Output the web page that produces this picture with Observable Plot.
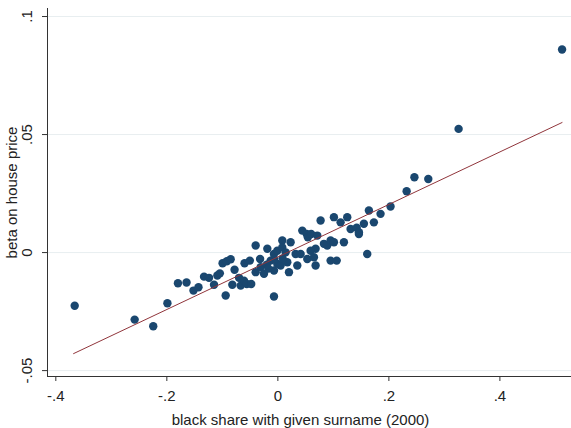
<!DOCTYPE html>
<html>
<head>
<meta charset="utf-8">
<script src="https://cdn.jsdelivr.net/npm/d3@7"></script>
<script src="https://cdn.jsdelivr.net/npm/@observablehq/plot@0.6"></script>
<style>
  html, body { margin: 0; padding: 0; background: #fff; }
  #chart { width: 571px; height: 428px; }
</style>
</head>
<body>
<div id="chart"></div>
<script>
// black share with given surname (2000)
const blackShare = [
  -0.366, -0.258, -0.2245, -0.199, -0.180, -0.1645, -0.152, -0.143, -0.133, -0.124,
  -0.115, -0.109, -0.1045, -0.0996, -0.092, -0.085, -0.078, -0.094, -0.082, -0.070,
  -0.067, -0.061, -0.056, -0.060, -0.0505, -0.040, -0.048, -0.040, -0.031, -0.032,
  -0.025, -0.019, -0.013, -0.007, -0.001, -0.007, -0.001, -0.007, 0.008, 0.008,
  0.023, 0.014, 0.005, -0.007, 0.017, 0.020, 0.035, 0.032, 0.041, 0.044,
  0.052, 0.054, 0.060, 0.077, 0.071, 0.068, 0.059, 0.053, 0.065, 0.068,
  0.083, 0.089, 0.095, 0.101, 0.113, 0.125, 0.101, 0.119, 0.095, 0.106,
  0.131, 0.142, 0.146, 0.155, 0.164, 0.173, 0.161, 0.185, 0.203, 0.232,
  0.246, 0.271, 0.3256, 0.512, 0.146, -0.020, 0.0085, -0.017
];
// beta on house price
const betaHousePrice = [
  -0.0225, -0.0284, -0.0312, -0.0215, -0.0130, -0.0127, -0.0161, -0.0147, -0.0102, -0.0107,
  -0.0136, -0.0097, -0.0088, -0.0045, -0.0037, -0.0028, -0.0073, -0.0182, -0.0136, -0.0107,
  -0.0140, -0.0119, -0.0133, -0.0045, -0.0034, 0.0030, -0.0133, -0.0083, -0.0062, -0.0027,
  -0.0090, 0.0016, -0.0034, -0.0006, -0.0048, -0.0186, 0.0008, -0.0027, 0.0051, 0.0022,
  0.0044, 0.0001, -0.0055, -0.0076, -0.0041, -0.0083, -0.0055, -0.0006, -0.0006, 0.0093,
  0.0079, 0.0065, 0.0079, 0.0136, 0.0072, 0.0016, 0.0008, -0.0027, -0.0020, -0.0055,
  0.0037, 0.0030, 0.0051, 0.0150, 0.0128, 0.0150, 0.0044, 0.0044, -0.0034, -0.0034,
  0.0100, 0.0105, 0.0079, 0.0122, 0.0178, 0.0128, -0.0006, 0.0164, 0.0195, 0.0260,
  0.0319, 0.0312, 0.0524, 0.0860, 0.0086, -0.0051, -0.0025, -0.0068
];
// linear fit endpoints
const fitX = [-0.368, 0.512];
const fitY = [-0.0428, 0.0551];

const xTicks = [-0.4, -0.2, 0, 0.2, 0.4];
const xTickLabels = ["-.4", "-.2", "0", ".2", ".4"];
const yTicks = [-0.05, 0, 0.05, 0.1];
const yTickLabels = ["-.05", "0", ".05", ".1"];
const xTitle = "black share with given surname (2000)";
const yTitle = "beta on house price";

const points = blackShare.map((x, i) => ({x, y: betaHousePrice[i]}));
const fit = fitX.map((x, i) => ({x, y: fitY[i]}));
const xLab = new Map(xTicks.map((t, i) => [t, xTickLabels[i]]));
const yLab = new Map(yTicks.map((t, i) => [t, yTickLabels[i]]));

const chart = Plot.plot({
  width: 571,
  height: 428,
  marginLeft: 47,
  marginRight: 0,
  marginTop: 8,
  marginBottom: 52,
  style: {fontFamily: "'Liberation Sans', Arial, sans-serif", fontSize: "15px", background: "#fff", color: "#222"},
  x: {domain: [-0.415, 0.529]},
  y: {domain: [-0.0525, 0.1034]},
  marks: [
    Plot.gridY(yTicks, {stroke: "#e8eef0", strokeOpacity: 1, strokeWidth: 1}),
    Plot.frame({anchor: "left", stroke: "#333"}),
    Plot.frame({anchor: "bottom", stroke: "#333"}),
    Plot.axisX(xTicks, {tickSize: 5, tickPadding: 9, tickFormat: d => xLab.get(d), label: null, fontSize: 15, stroke: "#333"}),
    Plot.axisY(yTicks, {tickSize: 5, tickPadding: 11, tickRotate: -90, tickFormat: d => yLab.get(d), label: null, fontSize: 15, stroke: "#333"}),
    Plot.dot(points, {x: "x", y: "y", r: 4.2, fill: "#1a476f", stroke: null}),
    Plot.line(fit, {x: "x", y: "y", stroke: "#90353b", strokeWidth: 1}),
    Plot.text([xTitle], {frameAnchor: "bottom", lineAnchor: "middle", textAnchor: "middle", dy: 44, dx: -9, text: d => d, fontSize: 15, fill: "#222"}),
    Plot.text([yTitle], {frameAnchor: "left", lineAnchor: "middle", textAnchor: "middle", dx: -35, rotate: -90, text: d => d, fontSize: 15, fill: "#222"})
  ]
});
document.getElementById("chart").appendChild(chart);
</script>
</body>
</html>
